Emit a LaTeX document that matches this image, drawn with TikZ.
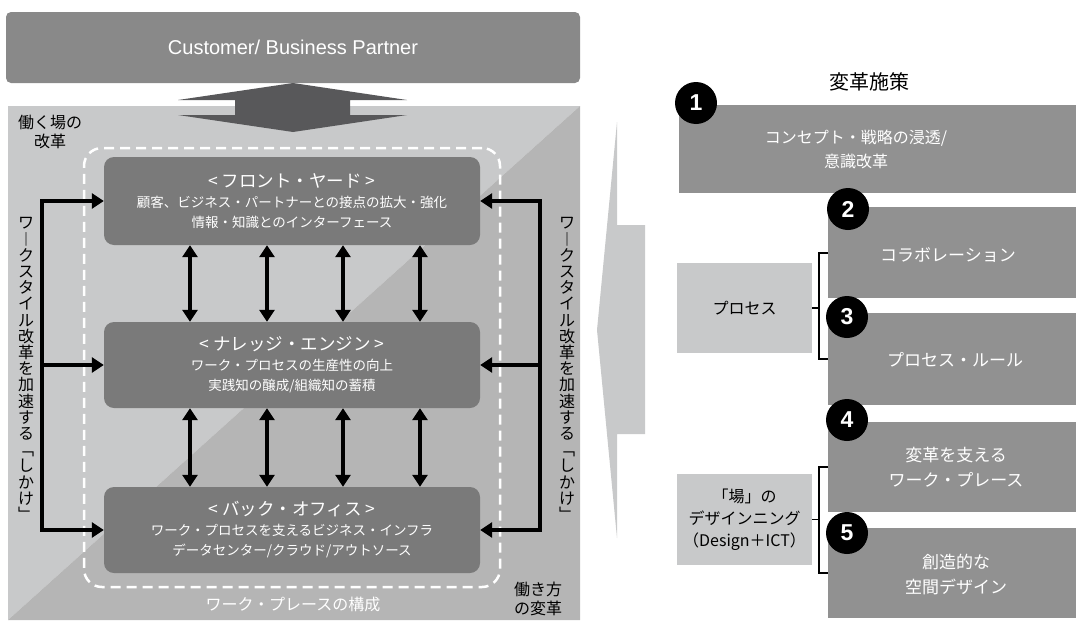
\documentclass[tikz,border=0pt]{standalone}
\usepackage{fontspec}
\setmainfont{Noto Sans CJK JP}
\newfontfamily\latinfont{Liberation Sans}
\usetikzlibrary{arrows.meta,calc}
\definecolor{topgray}{HTML}{898989}
\definecolor{panellight}{HTML}{C8C9CA}
\definecolor{paneldark}{HTML}{B5B5B5}
\definecolor{innergray}{HTML}{7A7A7A}
\definecolor{arrowgray}{HTML}{58585A}
\definecolor{rgray}{HTML}{919191}
\newcommand{\fs}[2]{\fontsize{#1}{#2}\selectfont}
\newcommand{\vstack}{ワ\\︱\\ク\\ス\\タ\\イ\\ル\\改\\革\\を\\加\\速\\す\\る\\﹁\\し\\か\\け\\﹂}
\begin{document}
\begin{tikzpicture}[x=1pt,y=-1pt,
  custbox/.style={fill=topgray, rounded corners=5pt, minimum width=574pt, minimum height=71pt, inner sep=0pt, text=white, font=\latinfont\fs{20}{20}},
  innerbox/.style={fill=innergray, rounded corners=10pt, minimum width=376pt, inner sep=0pt, text=white, align=center, font=\fs{13.5}{20}},
  flow/.style={line width=4pt, line join=miter, -{Triangle[width=15pt,length=12pt]}},
  dflow/.style={line width=4pt, {Triangle[width=15pt,length=12pt]}-{Triangle[width=15pt,length=12pt]}},
  wpbox/.style={draw=white, line width=2.5pt, dash pattern=on 10pt off 6pt, rounded corners=18pt, minimum width=416pt, minimum height=439pt, inner sep=0pt},
  vtext/.style={align=center, inner sep=0pt, font=\fs{16}{16.2}},
  blabel/.style={align=center, inner sep=0pt, font=\fs{16}{19}},
  rbox/.style={fill=rgray, anchor=north west, inner sep=0pt},
  rtext/.style={text=white, align=center, inner sep=0pt, font=\fs{17}{25}},
  badge/.style={circle, fill=black, minimum size=42pt, inner sep=0pt, text=white, font=\latinfont\bfseries\fs{23}{23}},
  gbox/.style={fill=panellight, minimum width=135pt, minimum height=90pt, inner sep=0pt, align=center, font=\fs{16}{22}},
  brk/.style={line width=1.2pt}
]
\useasboundingbox (0,0) rectangle (1076,624);

% ---- left panel background
\fill[panellight] (8,106) -- (580,106) -- (8,620) -- cycle;
\fill[paneldark] (580,106) -- (580,620) -- (8,620) -- cycle;

% ---- customer box
\node[custbox] (cust) at (293,47.5) {Customer/ Business Partner};

% ---- block double arrow
\fill[arrowgray] (293,83) -- (407,100) -- (350,100) -- (350,115) -- (407,115) -- (293,132)
  -- (178,115) -- (235,115) -- (235,100) -- (178,100) -- cycle;

% ---- corner labels
\node[blabel] (wplace) at (50,132) {働く場の\\改革};
\node[blabel] (wway) at (538,599) {働き方\\の変革};

% ---- dashed workplace frame
\node[wpbox] (wp) at (292,367.5) {};
\node[text=white, inner sep=0pt, font=\fs{16}{16}] (wplabel) at (293,604) {ワーク・プレースの構成};

% ---- three inner boxes
\node[innerbox, minimum height=88pt] (front) at (292,201)
  {{\fs{17.5}{24}< フロント・ヤード >}\\顧客、ビジネス・パートナーとの接点の拡大・強化\\情報・知識とのインターフェース};
\node[innerbox, minimum height=86pt] (know) at (292,365)
  {{\fs{17.5}{24}< ナレッジ・エンジン >}\\ワーク・プロセスの生産性の向上\\実践知の醸成/組織知の蓄積};
\node[innerbox, minimum height=86pt] (back) at (292,530)
  {{\fs{17.5}{24}< バック・オフィス >}\\ワーク・プロセスを支えるビジネス・インフラ\\データセンター/クラウド/アウトソース};

% ---- vertical double arrows
\foreach \xx in {190,267,343,420}{
  \draw[dflow] (\xx,0 |- front.south) -- (\xx,0 |- know.north);
  \draw[dflow] (\xx,0 |- know.south) -- (\xx,0 |- back.north);
}

% ---- side feedback connectors
\coordinate (lrail) at (42,0);
\coordinate (rrail) at (540,0);
\draw[dflow, line join=miter] (front.west) -- (lrail |- front.west) -- (lrail |- back.west) -- (back.west);
\draw[flow] (lrail |- know.west) -- (know.west);
\draw[dflow, line join=miter] (front.east) -- (rrail |- front.east) -- (rrail |- back.east) -- (back.east);
\draw[flow] (rrail |- know.east) -- (know.east);

% ---- vertical texts
\node[vtext] (vleft) at (26,369) {\vstack};
\node[vtext] (vright) at (567,369) {\vstack};

% ---- right side chevron
\fill[panellight] (617,122) -- (617,225) -- (645,225) -- (645,434) -- (617,434) -- (617,538) -- (597,330) -- cycle;

% ---- right column
\node[font=\fs{20}{20}, inner sep=0pt] (rtitle) at (869,82) {変革施策};

\node[rbox, minimum width=397pt, minimum height=88pt] (r1) at (679,105) {};
\node[rtext, font=\fs{16}{24}] (t1) at (856,149) {コンセプト・戦略の浸透/\\意識改革};
\node[rbox, minimum width=248pt, minimum height=91pt] (r2) at (828,207) {};
\node[rtext] (t2) at (948,255) {コラボレーション};
\node[rbox, minimum width=248pt, minimum height=92pt] (r3) at (828,313) {};
\node[rtext] (t3) at (955,360) {プロセス・ルール};
\node[rbox, minimum width=248pt, minimum height=90pt] (r4) at (828,422) {};
\node[rtext] (t4) at (956,467) {変革を支える\\ワーク・プレース};
\node[rbox, minimum width=248pt, minimum height=90pt] (r5) at (828,528) {};
\node[rtext] (t5) at (956,575) {創造的な\\空間デザイン};

\node[badge] (b1) at (696,103) {1};
\node[badge] (b2) at (848,209) {2};
\node[badge] (b3) at (847,317) {3};
\node[badge] (b4) at (847,420) {4};
\node[badge] (b5) at (847,533) {5};

% ---- grouping boxes and brackets
\node[gbox] (proc) at (744.5,308) {プロセス};
\node[gbox, minimum height=91pt] (place) at (744.5,519.5) {「場」の\\デザインニング\\（Design＋ICT）};

\coordinate (bk1) at (819,253);
\coordinate (bk2) at (819,359);
\draw[brk] (r2.west |- bk1) -- (bk1) -- (bk2) -- (r3.west |- bk2);
\draw[brk] (proc.east) -- (bk1 |- proc.east);
\coordinate (bk3) at (819,467);
\coordinate (bk4) at (819,573);
\draw[brk] (r4.west |- bk3) -- (bk3) -- (bk4) -- (r5.west |- bk4);
\draw[brk] (place.east) -- (bk3 |- place.east);
\end{tikzpicture}
\end{document}
